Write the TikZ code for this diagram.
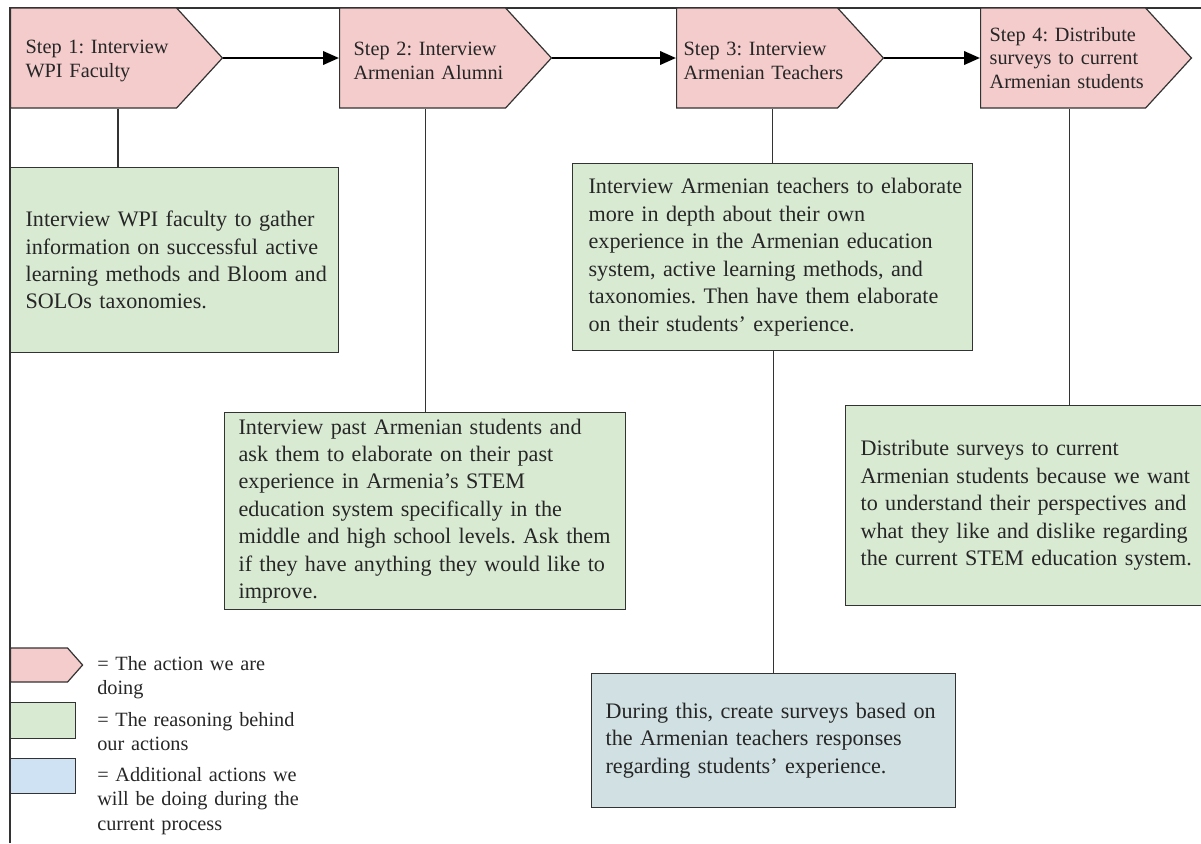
\documentclass[tikz,border=0pt]{standalone}
\usepackage{fontspec}
\setmainfont{Liberation Serif}
\usetikzlibrary{shapes.symbols,arrows.meta}
\frenchspacing

\definecolor{steppink}{HTML}{F4CCCC}
\definecolor{reasongreen}{HTML}{D9EAD3}
\definecolor{extrablue}{HTML}{D0E0E3}
\definecolor{keyblue}{HTML}{CFE2F3}
\definecolor{edgegrey}{HTML}{333333}

\newcommand{\stepfont}{\fontsize{15.2pt}{17.8pt}\selectfont}
\newcommand{\boxfont}{\fontsize{16.6pt}{20.6pt}\selectfont}
\newcommand{\keyfont}{\fontsize{15.2pt}{18.7pt}\selectfont}

\tikzset{
  stepsig/.style={shape=signal, signal to=east, signal pointer angle=95, draw=edgegrey, fill=steppink, line width=0.9pt, minimum height=75pt, inner sep=0pt, align=left, font=\stepfont, text=black!85, anchor=west, execute at begin node={\leftskip=#1\rightskip=-20pt plus 1fil}},
  stepsig/.default=0pt,
  twoline/.style={execute at begin node={\rule{0pt}{14.5pt}}},
  reason/.style={draw=edgegrey, fill=reasongreen, line width=0.9pt, inner xsep=0pt, inner ysep=2pt, align=left, font=\boxfont, text=black!85, anchor=north west, execute at begin node={\leftskip=#1\rightskip=-20pt plus 1fil}},
  reason/.default=0pt,
  keytext/.style={anchor=base west, inner sep=0pt, text width=170pt, align=left, font=\keyfont, text=black!85},
  flowarrow/.style={line width=2pt, -{Triangle[length=12pt,width=10pt]}},
  link/.style={line width=0.8pt, draw=edgegrey},
}

\begin{document}
\begin{tikzpicture}[x=0.75pt,y=0.75pt,yscale=-1,xscale=1]
    \useasboundingbox (0,0) rectangle (1201,843);
    % frame
    \draw [line width=1.2pt, draw=edgegrey] (10,843) -- (10,8) -- (1201,8) ;
    % steps
    \node [stepsig=11.25pt, twoline, text width=124.5pt] (s1) at (10,58) {Step 1: Interview\\WPI Faculty};
    \node [stepsig=10.5pt, twoline, text width=124.5pt] (s2) at (339,58) {Step 2: Interview\\Armenian Alumni};
    \node [stepsig=5.25pt, twoline, text width=120.75pt] (s3) at (676,58) {Step 3: Interview\\Armenian Teachers};
    \node [stepsig=6.75pt, text width=123.75pt] (s4) at (980,58) {Step 4: Distribute\\surveys to current\\Armenian students};
    \draw [flowarrow] (s1.east) -- (s2.west) ;
    \draw [flowarrow] (s2.east) -- (s3.west) ;
    \draw [flowarrow] (s3.east) -- (s4.west) ;
    % reasoning boxes
    \node [reason=11.25pt, minimum height=138.75pt, text width=246pt] (r1) at (10,167) {Interview WPI faculty to gather\\information on successful active\\learning methods and Bloom and\\SOLOs taxonomies.};
    \node [reason=10.5pt, minimum height=147.75pt, text width=300.75pt] (r2) at (224,412) {Interview past Armenian students and\\ask them to elaborate on their past\\experience in Armenia's STEM\\education system specifically in the\\middle and high school levels. Ask them\\if they have anything they would like to\\improve.};
    \node [reason=12pt, minimum height=140.25pt, text width=300pt] (r3) at (572,163) {Interview Armenian teachers to elaborate\\more in depth about their own\\experience in the Armenian education\\system, active learning methods, and\\taxonomies. Then have them elaborate\\on their students' experience.};
    \node [reason=11.25pt, minimum height=150pt, text width=336pt] (r4) at (845,405) {Distribute surveys to current\\Armenian students because we want\\to understand their perspectives and\\what they like and dislike regarding\\the current STEM education system.};
    \node [reason=10.5pt, fill=extrablue, minimum height=100.5pt, text width=273pt] (b1) at (591,673) {During this, create surveys based on\\the Armenian teachers responses\\regarding students' experience.};
    \draw [link] ([xshift=81pt]s1.south west) -- ([xshift=81pt]s1.south west |- r1.north) ;
    \draw [link] (r2.north) -- (r2.north |- s2.south) ;
    \draw [link] (r3.north) -- (r3.north |- s3.south) ;
    \draw [link] (r4.north) -- (r4.north |- s4.south) ;
    \draw [link] (b1.north) -- (b1.north |- r3.south) ;
    % key
    \node [stepsig, minimum width=54pt, minimum height=25.5pt, signal pointer angle=97] (k1) at (10,665) {};
    \node [reason, inner sep=0pt, minimum width=48.75pt, minimum height=27pt] (k2) at (10,702) {};
    \node [reason, fill=keyblue, inner sep=0pt, minimum width=48.75pt, minimum height=26.25pt] (k3) at (10,758) {};
    \node [keytext] (t1) at (97,670) {= The action we are\\doing};
    \node [keytext] (t2) at (97,726) {= The reasoning behind\\our actions};
    \node [keytext] (t3) at (97,781) {= Additional actions we\\will be doing during the\\current process};
\end{tikzpicture}
\end{document}
